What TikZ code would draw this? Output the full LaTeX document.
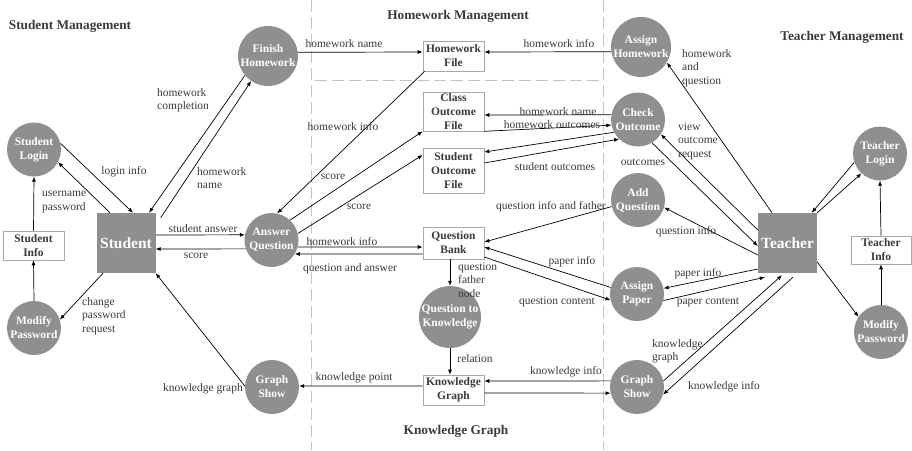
\documentclass[tikz,border=0pt]{standalone}
\usepackage{fontspec}
\setmainfont{Liberation Serif}
\usetikzlibrary{arrows.meta,calc}
\definecolor{procfill}{HTML}{8F8F8F}
\definecolor{txtgray}{HTML}{3A3A3A}
\definecolor{filegray}{HTML}{A8A8A8}
\definecolor{zonegray}{HTML}{C4C4C4}

\begin{document}
\begin{tikzpicture}[x=1pt,y=-1pt,
  proc/.style={circle,fill=procfill,text=white,inner sep=0pt,minimum size=54pt,align=center,
    font=\fontsize{11.5}{14}\selectfont\bfseries},
  actor/.style={rectangle,fill=procfill,text=white,inner sep=0pt,minimum width=59pt,minimum height=60pt,
    font=\fontsize{15.5}{18}\selectfont\bfseries},
  store/.style={rectangle,draw=filegray,line width=0.6pt,fill=white,text=txtgray,inner sep=0pt,
    minimum width=61pt,align=center,font=\fontsize{11.5}{14}\selectfont\bfseries},
  lbl/.style={inner sep=0pt,text=txtgray,align=left,font=\fontsize{11.5}{13.5}\selectfont},
  zone/.style={text=txtgray,inner sep=0pt,font=\fontsize{13.3}{16}\selectfont\bfseries},
  dflow/.style={-{Latex[length=5pt,width=4pt]},line width=0.7pt,black},
  divider/.style={draw=zonegray,line width=1pt,dash pattern=on 12pt off 5pt}
]
\useasboundingbox (0,0) rectangle (912,450);

% zone dividers
\draw[divider] (311,0) -- (311,450);
\draw[divider] (603,0) -- (603,450);
\draw[divider] (315,80) -- (601,80);

% zone titles
\node[zone] (tSM) at (70,26) {Student Management};
\node[zone] (tHM) at (458,16) {Homework Management};
\node[zone] (tTM) at (842,37) {Teacher Management};
\node[zone] (tKG) at (456,431) {Knowledge Graph};

% processes
\node[proc,minimum size=60pt] (FH) at (268,56) {Finish\\Homework};
\node[proc] (SL) at (34,149.5) {Student\\Login};
\node[proc] (SMP) at (34,328) {Modify\\Password};
\node[proc] (SGS) at (272,387) {Graph\\Show};
\node[proc] (AQ) at (271.5,240) {Answer\\Question};
\node[proc,minimum size=62pt] (QK) at (450,317) {Question to\\Knowledge};
\node[proc,minimum size=60pt] (AH) at (641,47) {Assign\\Homework};
\node[proc] (CO) at (638,119.5) {Check\\Outcome};
\node[proc] (AD) at (638,200) {Add\\Question};
\node[proc] (AP) at (637,294) {Assign\\Paper};
\node[proc] (TGS) at (637,387) {Graph\\Show};
\node[proc] (TL) at (880,153.5) {Teacher\\Login};
\node[proc] (TMP) at (881,332) {Modify\\Password};

% external entities
\node[actor] (ST) at (126,243) {Student};
\node[actor] (TE) at (787.5,243) {Teacher};

% data stores
\node[store,minimum height=29pt] (SI) at (33.5,245.5) {Student\\Info};
\node[store,minimum height=28pt,minimum width=60pt] (TI) at (881,250) {Teacher\\Info};
\node[store,minimum height=30pt] (HF) at (453.5,56) {Homework\\File};
\node[store,minimum height=39pt] (CF) at (453.5,111.5) {Class\\Outcome\\File};
\node[store,minimum height=45pt] (SF) at (453.5,170.5) {Student\\Outcome\\File};
\node[store,minimum height=32pt] (QB) at (453.5,243) {Question\\Bank};
\node[store,minimum height=30pt] (KG) at (453.5,390) {Knowledge\\Graph};

% data flows: student side
\draw[dflow] (SL.13) -- ([xshift=7pt]ST.north);
\draw[dflow] ([xshift=-16pt]ST.north) -- (SL.-28);
\draw[dflow] (SI.north) -- (SL.south);
\draw[dflow] (SMP.north) -- (SI.south);
\draw[dflow] ([xshift=-23pt]ST.south) -- (SMP.18);
\draw[dflow] (SGS.178) -- (ST.south east);
\draw[dflow] (FH.220) -- ([xshift=23pt]ST.north);
\draw[dflow] ([xshift=5pt,yshift=-5pt]ST.north east) -- (FH.236);
\draw[dflow] ([yshift=8pt]ST.east) -- (AQ.169);
\draw[dflow] (AQ.199) -- ([yshift=-6pt]ST.east);

% data flows: homework management
\draw[dflow] (FH.7.7) -- ([yshift=4pt]HF.west);
\draw[dflow] (AH.189.6) -- ([yshift=4pt]HF.east);
\draw[dflow] ([xshift=2pt]HF.south west) -- (AQ.78);
\draw[dflow] (AQ.47) -- (CF.south west);
\draw[dflow] (AQ.14) -- ([yshift=15.5pt]SF.west);
\draw[dflow] (AQ.-15) -- ([yshift=-4pt]QB.west);
\draw[dflow] ([yshift=-11pt]QB.west) -- (AQ.-31);
\draw[dflow] (CO.170) -- ([yshift=-3.5pt]CF.east);
\draw[dflow] (CF.south east) -- (CO.192);
\draw[dflow] (CO.208) -- ([yshift=18.5pt]SF.east);
\draw[dflow] ([yshift=7.5pt]SF.east) -- (CO.226);
\draw[dflow] (AD.194) -- ([yshift=1pt]QB.east);
\draw[dflow] (AP.166) -- ([yshift=-4pt]QB.east);
\draw[dflow] ([yshift=-14pt]QB.east) -- (AP.193);

% data flows: knowledge graph
\draw[dflow] (QB.south -| QK.north) -- (QK.north);
\draw[dflow] (QK.south) -- (QK.south |- KG.north);
\draw[dflow] ([yshift=4pt]KG.west) -- (SGS.2);
\draw[dflow] (TGS.167) -- ([yshift=9pt]KG.east);
\draw[dflow] ([yshift=-3pt]KG.east) -- (TGS.193);

% data flows: teacher side
\draw[dflow] ([xshift=-15.5pt]TE.north) -- (AH.-31);
\draw[dflow] ([yshift=13pt]TE.west) -- (CO.-33);
\draw[dflow] (CO.-59) -- ([yshift=-3pt]TE.west);
\draw[dflow] ([yshift=-12pt]TE.west) -- (AD.-16);
\draw[dflow] ([yshift=-26pt]TE.west) -- (AP.12);
\draw[dflow] (AP.-14) -- ([xshift=7pt,yshift=-4pt]TE.south west);
\draw[dflow] (TGS.13) -- ([xshift=-5.5pt,yshift=-2pt]TE.south);
\draw[dflow] ([xshift=5.5pt,yshift=-4pt]TE.south) -- (TGS.-16);
\draw[dflow] (TE.north east) -- (TL.227);
\draw[dflow] (TL.199) -- ([xshift=-5.5pt]TE.north east);
\draw[dflow] (TI.north) -- (TL.south);
\draw[dflow] (TMP.north) -- (TI.south);
\draw[dflow] ([yshift=-19pt]TE.east) -- (TMP.146);

% flow labels
\node[lbl] (n1) at (344,44) {homework name};
\node[lbl] (n2) at (559,44) {homework info};
\node[lbl,anchor=west] (n3) at (157,100) {homework\\completion};
\node[lbl] (n4) at (124,172) {login info};
\node[lbl,anchor=west] (n5) at (197,178) {homework\\name};
\node[lbl,anchor=west] (n6) at (42,202) {username\\password};
\node[lbl,anchor=west] (n7) at (82,316) {change\\password\\request};
\node[lbl] (n8) at (203,389) {knowledge graph};
\node[lbl] (n9) at (203,229) {student answer};
\node[lbl] (n10) at (196,256) {score};
\node[lbl] (n11) at (343,127) {homework info};
\node[lbl] (n12) at (333,177) {score};
\node[lbl] (n13) at (359,207) {score};
\node[lbl] (n14) at (342,242) {homework info};
\node[lbl] (n15) at (350,269) {question and answer};
\node[lbl] (n16) at (558,112) {homework name};
\node[lbl] (n17) at (552,125) {homework outcomes};
\node[lbl] (n18) at (555,167) {student outcomes};
\node[lbl] (n19) at (643,162) {outcomes};
\node[lbl,anchor=west] (n20) at (678,141) {view\\outcome\\request};
\node[lbl,anchor=west] (n21) at (682,68) {homework\\and\\question};
\node[lbl] (n22) at (551,207) {question info and father};
\node[lbl] (n23) at (686,232) {question info};
\node[lbl] (n24) at (572,262) {paper info};
\node[lbl] (n25) at (557,302) {question content};
\node[lbl,anchor=west] (n26) at (458,280) {question\\father\\node};
\node[lbl] (n27) at (475,359) {relation};
\node[lbl] (n28) at (354,378) {knowledge point};
\node[lbl] (n29) at (566,372) {knowledge info};
\node[lbl] (n30) at (698,274) {paper info};
\node[lbl] (n31) at (708,302) {paper content};
\node[lbl,anchor=west] (n32) at (652,351) {knowledge\\graph};
\node[lbl] (n33) at (724,387) {knowledge info};
\end{tikzpicture}
\end{document}
